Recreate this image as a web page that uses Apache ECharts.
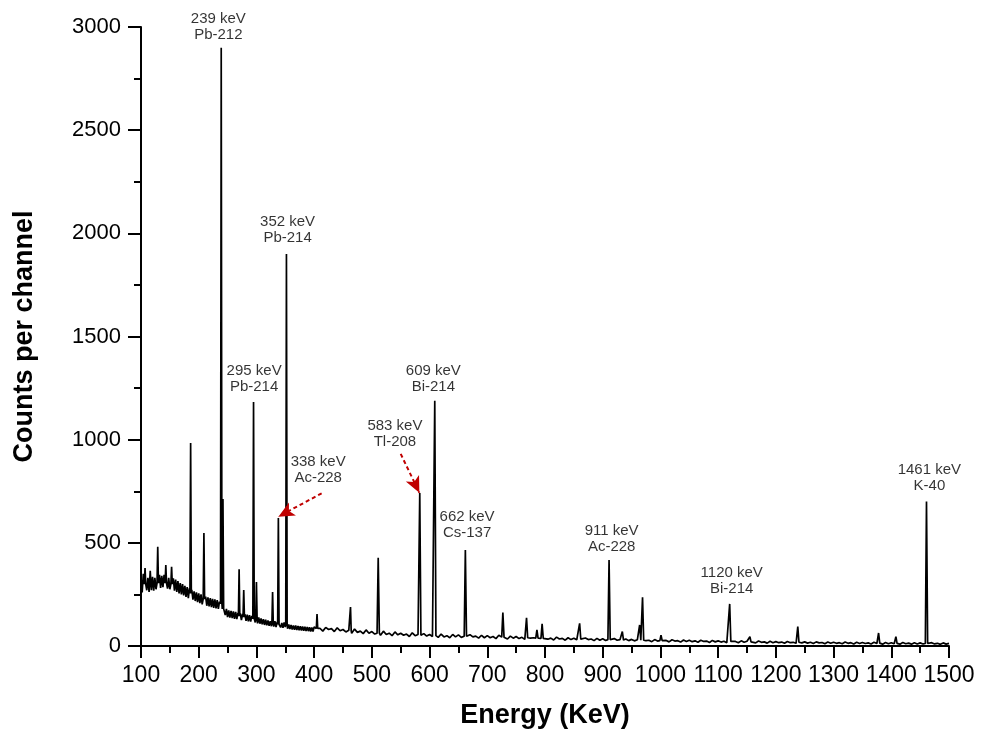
<!DOCTYPE html>
<html>
<head>
<meta charset="utf-8">
<script src="https://cdn.jsdelivr.net/npm/echarts@6/dist/echarts.min.js"></script>
<style>
html,body{margin:0;padding:0;background:#fff;}
#chart{width:989px;height:741px;}
</style>
</head>
<body>
<div id="chart"></div>
<script>
// ---- Data ----
// Continuum (background) counts, low-energy part: 100..398 keV every 2 keV
const lowStart = 100, lowStep = 2;
const lowCounts = [
 330,260,350,265,335,270,330,262,325,270,
 335,268,330,275,340,280,345,282,340,285,
 345,280,335,278,330,275,335,272,328,268,
 322,262,315,255,305,250,300,245,292,238,
 285,232,280,228,272,225,265,218,260,212,
 255,208,250,202,245,198,240,195,236,192,
 232,188,228,185,226,182,222,180,215,190,
 180,175,185,150,180,140,172,138,170,135,
 168,132,165,130,160,128,158,126,156,124,
 155,122,152,120,150,118,146,116,144,114,
 140,110,138,108,134,105,130,102,127,100,
 124,98,120,96,118,94,120,92,116,92,
 114,90,112,88,114,92,104,84,104,82,
 102,80,100,78,99,77,97,76,96,75,
 95,74,94,72,92,72,91,70,90,70
];
// Continuum counts, high-energy part: 400..1500 keV every 5 keV
const highStart = 400, highStep = 5;
const highCounts = [
 92,78,86,72,90,80,84,70,88,74,
 80,68,76,62,82,66,72,60,78,62,
 70,58,64,52,72,56,62,50,68,54,
 62,52,58,46,64,50,56,44,60,48,
 56,46,52,42,58,44,50,40,56,44,
 54,42,50,38,55,44,48,38,52,40,
 50,40,46,36,52,42,44,34,48,38,
 46,36,42,32,47,38,40,31,44,34,
 42,33,38,29,43,34,37,28,40,31,
 38,30,35,26,39,31,34,26,37,28,
 35,27,32,24,36,28,31,23,34,26,
 32,25,30,22,33,26,28,21,31,24,
 30,23,27,20,30,24,26,19,29,22,
 28,21,25,18,28,22,24,17,27,20,
 25,19,23,16,26,20,22,16,25,18,
 23,17,21,15,24,18,20,14,23,16,
 21,16,19,13,22,16,18,13,21,15,
 20,14,18,12,20,15,17,11,19,13,
 18,13,16,11,19,13,16,10,18,12,
 17,12,15,10,18,12,15,9,17,11,
 16,11,14,9,17,11,14,9,16,10,
 15,10,13,8,16,10,13,8,15,9,
 13
];
// Photopeaks: energy (keV), peak counts, counts at peak foot
const peakEnergy = [107,116,129,143,153,186,209,239,242,270,278,295,300,328,338,352,405,463,511,583,609,662,727,768,786,795,860,911,934,964,969,1001,1120,1155,1238,1378,1408,1461];
const peakCounts = [378,365,481,393,384,984,548,2900,712,372,271,1183,310,262,620,1900,155,189,428,742,1188,465,162,137,78,107,110,417,70,102,236,53,204,45,94,63,45,700];
const peakBase   = [300,300,305,305,300,255,228,205,180,145,140,132,128,108,105,105,85,73,62,52,50,47,43,40,38,37,33,31,29,28,28,26,22,20,18,14,13,12];

// Annotations
const labelEnergy = [234,354,296,407,540,606.5,665,915.5,1123.5,1466];
const labelCounts = [3000,2016,1294,852,1030,1293,585,520,315,813];
const labelText = [
 '239 keV\nPb-212','352 keV\nPb-214','295 keV\nPb-214','338 keV\nAc-228',
 '583 keV\nTl-208','609 keV\nBi-214','662 keV\nCs-137','911 keV\nAc-228',
 '1120 keV\nBi-214','1461 keV\nK-40'
];
// Arrows: [fromE, fromCounts, toE, toCounts]
const arrows = [[413,740,338,627],[550,931,582.3,743]];

// Axis ticks
const xMin = 100, xMax = 1500, xStep = 100;
const yMin = 0, yMax = 3000, yStep = 500;

// ---- Build spectrum ----
function hw(e){ return e < 500 ? 1.2 : 2.0; }
let pts = [];
lowCounts.forEach((c,i)=>{ const e = lowStart + i*lowStep; if (e < highStart) pts.push([e,c]); });
highCounts.forEach((c,i)=>{ pts.push([highStart + i*highStep, c]); });
pts = pts.filter(p => !peakEnergy.some(pe => Math.abs(p[0]-pe) < hw(pe)+0.6));
peakEnergy.forEach((pe,i)=>{
  const w = hw(pe);
  pts.push([pe-w, peakBase[i]]);
  pts.push([pe, peakCounts[i]]);
  pts.push([pe+w, peakBase[i]]);
});
pts.sort((a,b)=>a[0]-b[0]);

const FONT = "'Liberation Sans', Arial, Helvetica, sans-serif";
const chart = echarts.init(document.getElementById('chart'), null, {renderer:'canvas'});
chart.setOption({
  animation:false,
  backgroundColor:'#ffffff',
  grid:{left:141, right:40, top:27, bottom:95, containLabel:false},
  xAxis:{
    type:'value', min:xMin, max:xMax, interval:xStep,
    name:'Energy (KeV)', nameLocation:'middle', nameGap:56,
    nameTextStyle:{fontFamily:FONT, fontSize:27, fontWeight:'bold', color:'#000'},
    axisLine:{show:true, lineStyle:{color:'#000', width:2}},
    axisTick:{show:true, length:12, lineStyle:{color:'#000', width:2}},
    minorTick:{show:true, splitNumber:2, length:7, lineStyle:{color:'#000', width:2}},
    splitLine:{show:false},
    axisLabel:{fontFamily:FONT, fontSize:23, color:'#000', margin:18, formatter:v=>String(v)}
  },
  yAxis:{
    type:'value', min:yMin, max:yMax, interval:yStep,
    name:'Counts per channel', nameLocation:'middle', nameGap:103, nameRotate:90,
    nameTextStyle:{fontFamily:FONT, fontSize:27, fontWeight:'bold', color:'#000'},
    axisLine:{show:true, lineStyle:{color:'#000', width:2}},
    axisTick:{show:true, length:13, lineStyle:{color:'#000', width:2}},
    minorTick:{show:true, splitNumber:2, length:7, lineStyle:{color:'#000', width:2}},
    splitLine:{show:false},
    axisLabel:{fontFamily:FONT, fontSize:22, color:'#000', margin:20, formatter:v=>String(v)}
  },
  series:[
    {
      type:'line', data:pts, showSymbol:false, symbol:'none', sampling:null,
      lineStyle:{color:'#000', width:1.7}, z:3,
      markLine:{
        silent:true, animation:false,
        symbol:['none','arrow'], symbolSize:[11,16],
        label:{show:false},
        lineStyle:{color:'#c00000', type:[4,3], width:2},
        data: arrows.map(a => [{coord:[a[0],a[1]]},{coord:[a[2],a[3]]}])
      }
    },
    {
      type:'scatter', symbolSize:0, silent:true, z:5,
      data: labelEnergy.map((e,i)=>({value:[e,labelCounts[i]], name:labelText[i]})),
      label:{show:true, position:'inside', formatter:p=>p.name,
        fontFamily:FONT, fontSize:15, lineHeight:16, color:'#000', align:'center', verticalAlign:'middle'}
    }
  ]
});
</script>
</body>
</html>
